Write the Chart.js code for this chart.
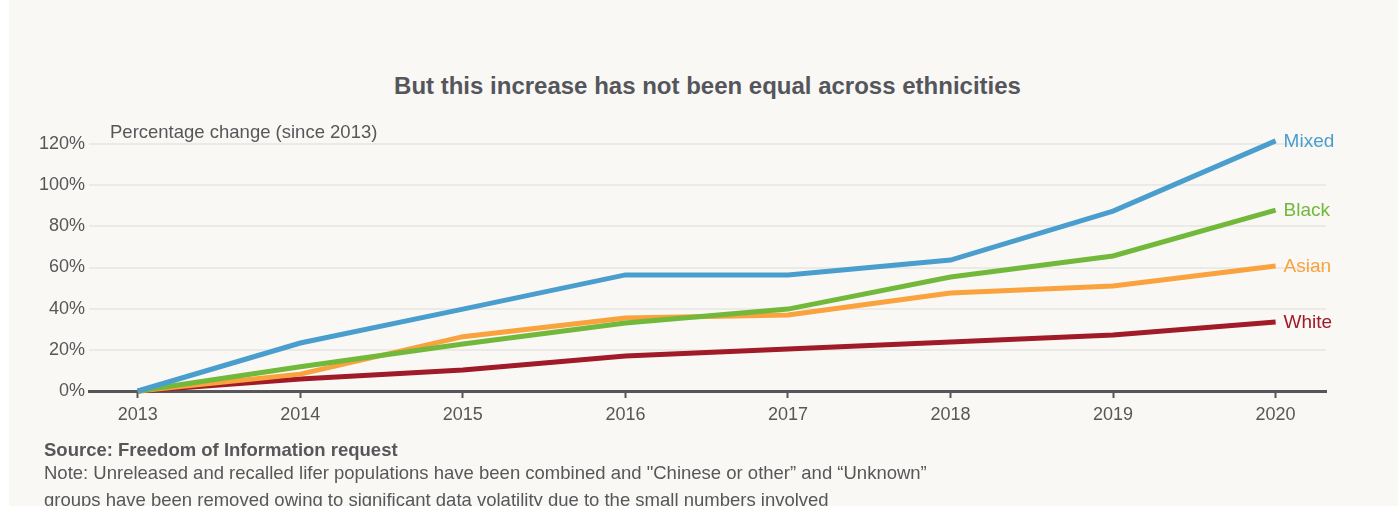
<!DOCTYPE html>
<html>
<head>
<meta charset="utf-8">
<script src="https://cdn.jsdelivr.net/npm/chart.js@4.4.1/dist/chart.umd.min.js"></script>
<style>
  html, body { margin: 0; padding: 0; background: #fff; }
  body { width: 1398px; height: 506px; position: relative; overflow: hidden;
         font-family: 'Liberation Sans', Arial, Helvetica, sans-serif; color: #57575a; }
  .card { position: absolute; left: 9px; top: 0; right: 0; bottom: 0; background: #f9f8f5; }
  #myChart { position: absolute; left: 0; top: 0; }
  .title { position: absolute; left: 17px; right: 0; top: 72px; text-align: center;
           font-size: 24px; font-weight: bold; color: #55565b; }
  .source { position: absolute; left: 44px; top: 439px; font-size: 18.5px; font-weight: bold; }
  .note { position: absolute; left: 44px; top: 459px; font-size: 18.5px; line-height: 27px; }
</style>
</head>
<body>
<div class="card"></div>
<div class="title">But this increase has not been equal across ethnicities</div>
<canvas id="myChart" width="1398" height="506"></canvas>
<div class="source">Source: Freedom of Information request</div>
<div class="note">Note: Unreleased and recalled lifer populations have been combined and "Chinese or other” and “Unknown”<br>groups have been removed owing to significant data volatility due to the small numbers involved</div>
<script>
const years = [2013, 2014, 2015, 2016, 2017, 2018, 2019, 2020];
const mixed = [0, 23.3, 39.8, 56.4, 56.4, 63.6, 87.4, 121.5];
const black = [0, 11.8, 22.8, 33.0, 39.8, 55.4, 65.6, 87.9];
const asian = [0, 8.2, 26.4, 35.5, 36.9, 47.6, 51.0, 60.7];
const white = [0, 5.8, 10.2, 17.0, 20.4, 23.8, 27.2, 33.5];
const yTicks = [0, 20, 40, 60, 80, 100, 120];

Chart.defaults.font.family = "'Liberation Sans', Arial, Helvetica, sans-serif";
Chart.defaults.color = '#57575a';

function series(label, values, colour) {
  return {
    label: label,
    data: values.map(function(v, i) { return { x: years[i], y: v }; }),
    borderColor: colour,
    backgroundColor: colour,
    borderWidth: 5,
    borderCapStyle: 'butt',
    pointRadius: 0,
    tension: 0,
    clip: 10
  };
}

// series names written at the end of each line, plus the axis caption
const endLabels = {
  id: 'endLabels',
  afterDatasetsDraw(chart) {
    const ctx = chart.ctx;
    const xs = chart.scales.x, ys = chart.scales.y;
    ctx.save();
    ctx.font = "19px 'Liberation Sans', Arial, sans-serif";
    ctx.textBaseline = 'middle';
    ctx.textAlign = 'left';
    chart.data.datasets.forEach(function(ds) {
      const last = ds.data[ds.data.length - 1];
      ctx.fillStyle = ds.borderColor;
      ctx.fillText(ds.label, xs.getPixelForValue(last.x) + 8, ys.getPixelForValue(last.y) + 1);
    });
    ctx.font = "18.5px 'Liberation Sans', Arial, sans-serif";
    ctx.fillStyle = '#57575a';
    ctx.fillText('Percentage change (since 2013)', chart.chartArea.left + 21, chart.chartArea.top - 11);
    ctx.restore();
  }
};

const config = {
  type: 'line',
  data: {
    datasets: [
      series('Mixed', mixed, '#4a9ecd'),
      series('Black', black, '#72b83a'),
      series('Asian', asian, '#f9a23e'),
      series('White', white, '#a01a28')
    ]
  },
  options: {
    responsive: false,
    animation: false,
    layout: { padding: { top: 144, right: 72, bottom: 85, left: 0 } },
    scales: {
      x: {
        type: 'linear',
        min: 2012.7,
        max: 2020.31,
        afterBuildTicks: function(scale) {
          scale.ticks = years.map(function(v) { return { value: v }; });
        },
        afterFit: function(scale) { scale.height = 30; },
        grid: {
          drawOnChartArea: false,
          drawTicks: true,
          tickLength: 7,
          tickWidth: 2,
          tickColor: '#57575a'
        },
        border: { display: true, color: '#57575a', width: 3 },
        ticks: {
          padding: 6,
          font: { size: 18 },
          callback: function(v) { return String(v); }
        }
      },
      y: {
        min: 0,
        max: 120,
        afterBuildTicks: function(scale) {
          scale.ticks = yTicks.map(function(v) { return { value: v }; });
        },
        afterFit: function(scale) { scale.width = 89; },
        grid: {
          drawTicks: false,
          lineWidth: 2,
          color: function(c) { return c.tick && c.tick.value === 0 ? 'rgba(0,0,0,0)' : '#ebeae7'; }
        },
        border: { display: false },
        ticks: {
          padding: 4,
          font: { size: 18 },
          callback: function(v) { return v + '%'; }
        }
      }
    },
    plugins: {
      legend: { display: false },
      title: { display: false },
      tooltip: { enabled: false }
    }
  },
  plugins: [endLabels]
};

const myChart = new Chart(document.getElementById('myChart'), config);
</script>
</body>
</html>
